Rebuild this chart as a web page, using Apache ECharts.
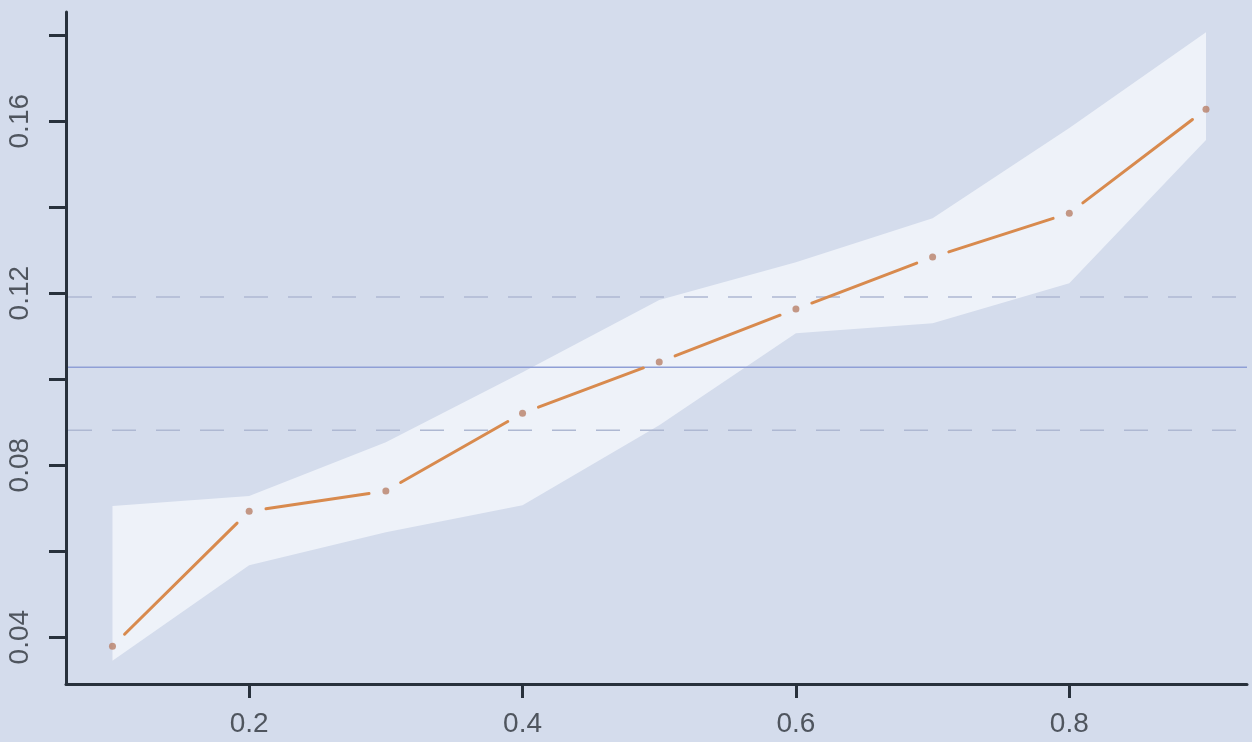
<!DOCTYPE html>
<html>
<head>
<meta charset="utf-8">
<style>
  html, body { margin: 0; padding: 0; background: #d4dcec; }
  #chart { width: 1252px; height: 742px; }
</style>
<script src="https://cdn.jsdelivr.net/npm/echarts@6/dist/echarts.min.js"></script>
</head>
<body>
<div id="chart"></div>
<script>
// Proportion on the x axis, estimate with its lower/upper interval
const xValues  = [0.1, 0.2, 0.3, 0.4, 0.5, 0.6, 0.7, 0.8, 0.9];
const estimate = [0.0379, 0.0693, 0.0740, 0.0921, 0.1040, 0.1163, 0.1284, 0.1386, 0.1628];
const upper    = [0.0705, 0.0728, 0.0853, 0.1016, 0.1184, 0.1272, 0.1374, 0.1584, 0.1807];
const lower    = [0.0345, 0.0567, 0.0644, 0.0707, 0.0893, 0.1107, 0.1130, 0.1223, 0.1556];

// Reference level and its limits
const centerLevel = 0.1028;
const limitLevels = [0.0881, 0.1191];

// Axis ticks and labels
const xTicks  = [0.2, 0.4, 0.6, 0.8];
const yTicks  = [0.04, 0.06, 0.08, 0.10, 0.12, 0.14, 0.16, 0.18];
const yLabels = [0.04, 0.08, 0.12, 0.16];

const GAP = 17; // space left around each point on the connecting line

const labelStyle = {
  color: '#4f555e',
  fontSize: 28,
  fontFamily: 'Liberation Sans, Arial, sans-serif'
};
const axisColor = '#28313c';

const segments = [];
for (let i = 0; i < xValues.length - 1; i++) {
  segments.push([xValues[i], estimate[i], xValues[i + 1], estimate[i + 1]]);
}

// horizontal levels: [value, kind]  (0 = solid centre, 1 = dashed limit)
const levels = [[centerLevel, 0], [limitLevels[0], 1], [limitLevels[1], 1]];

const chart = echarts.init(document.getElementById('chart'), null, { renderer: 'canvas' });

chart.setOption({
  backgroundColor: '#d4dcec',
  animation: false,
  grid: { left: 66, right: 5, top: 12, bottom: 58 },
  xAxis: {
    type: 'value',
    min: 0.066,
    max: 0.930,
    splitLine: { show: false },
    axisLine: { show: true, onZero: false, lineStyle: { color: axisColor, width: 3 } },
    axisTick: { show: true, length: 14, customValues: xTicks, lineStyle: { color: axisColor, width: 3 } },
    axisLabel: Object.assign({ margin: 26, customValues: xTicks, formatter: v => v.toFixed(1) }, labelStyle)
  },
  yAxis: {
    type: 'value',
    min: 0.0291,
    max: 0.1854,
    splitLine: { show: false },
    axisLine: { show: true, onZero: false, lineStyle: { color: axisColor, width: 3 } },
    axisTick: { show: true, length: 17, customValues: yTicks, lineStyle: { color: axisColor, width: 3 } },
    axisLabel: Object.assign({ margin: 32, rotate: 90, customValues: yLabels, formatter: v => v.toFixed(2) }, labelStyle)
  },
  series: [
    {
      // interval band
      type: 'custom',
      silent: true,
      clip: false,
      data: [[0.5, 0.1]],
      renderItem: function (params, api) {
        const pts = [];
        for (let i = 0; i < xValues.length; i++) pts.push(api.coord([xValues[i], upper[i]]));
        for (let i = xValues.length - 1; i >= 0; i--) pts.push(api.coord([xValues[i], lower[i]]));
        return { type: 'polygon', shape: { points: pts }, style: { fill: '#eef2f9' } };
      },
      z: 1
    },
    {
      // reference level and limits across the plotting area
      type: 'custom',
      silent: true,
      data: levels.map(l => [0.5, l[0], l[1]]),
      encode: { x: 0, y: 1 },
      renderItem: function (params, api) {
        const cs = params.coordSys;
        const y = api.coord([0.5, api.value(1)])[1];
        const dashed = api.value(2) === 1;
        return {
          type: 'line',
          shape: { x1: cs.x + 2, y1: y, x2: cs.x + cs.width, y2: y },
          style: dashed
            ? { stroke: '#aeb8d2', lineWidth: 1.5, lineDash: [24, 20] }
            : { stroke: '#8f9fd6', lineWidth: 1.5 }
        };
      },
      z: 2
    },
    {
      // connecting line, broken around each point
      type: 'custom',
      silent: true,
      data: segments,
      renderItem: function (params, api) {
        const a = api.coord([api.value(0), api.value(1)]);
        const b = api.coord([api.value(2), api.value(3)]);
        const dx = b[0] - a[0], dy = b[1] - a[1];
        const len = Math.sqrt(dx * dx + dy * dy);
        if (len <= 2 * GAP) return null;
        const ux = dx / len, uy = dy / len;
        return {
          type: 'line',
          shape: { x1: a[0] + ux * GAP, y1: a[1] + uy * GAP, x2: b[0] - ux * GAP, y2: b[1] - uy * GAP },
          style: { stroke: '#d88a4e', lineWidth: 3, lineCap: 'round' }
        };
      },
      z: 3
    },
    {
      type: 'scatter',
      silent: true,
      data: xValues.map((x, i) => [x, estimate[i]]),
      symbol: 'circle',
      symbolSize: 7,
      itemStyle: { color: '#b88068' },
      z: 4
    }
  ]
});
</script>
</body>
</html>
